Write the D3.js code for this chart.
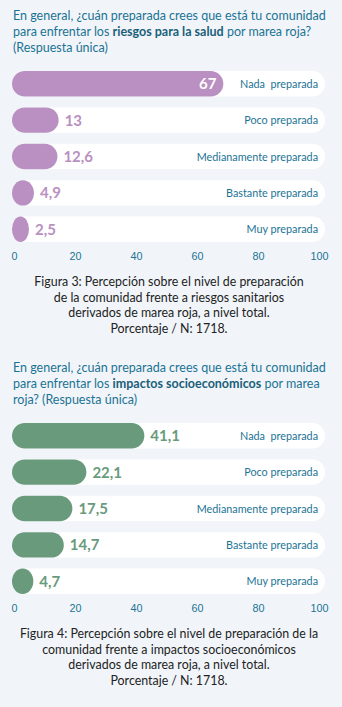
<!DOCTYPE html>
<html>
<head>
<meta charset="utf-8">
<script src="https://cdn.jsdelivr.net/npm/d3@7"></script>
<style>
  body { margin: 0; background: #f1f5f9; }
  svg { display: block; font-family: Lato, sans-serif; }
  .cat { white-space: pre; }
</style>
</head>
<body>
<svg id="chart" width="342" height="707"></svg>
<script>
// categories and values
const categories = ["Nada  preparada", "Poco preparada", "Medianamente preparada", "Bastante preparada", "Muy preparada"];
const saludValues = [67, 13, 12.6, 4.9, 2.5];
const impactosValues = [41.1, 22.1, 17.5, 14.7, 4.7];
const tickValues = [0, 20, 40, 60, 80, 100];

const title1 = [["En general, ¿cuán preparada crees que está tu comunidad"], ["para enfrentar los ", "riesgos para la salud", " por marea roja?"], ["(Respuesta única)"]];
const title2 = [["En general, ¿cuán preparada crees que está tu comunidad"], ["para enfrentar los ", "impactos socioeconómicos", " por marea"], ["roja? (Respuesta única)"]];
const caption1 = ["Figura 3: Percepción sobre el nivel de preparación", "de la comunidad frente a riesgos sanitarios", "derivados de marea roja, a nivel total.", "Porcentaje / N: 1718."];
const caption2 = ["Figura 4: Percepción sobre el nivel de preparación de la", "comunidad frente a impactos socioeconómicos", "derivados de marea roja, a nivel total.", "Porcentaje / N: 1718."];

const svg = d3.select("#chart");
const x = d3.scaleLinear().domain([0, 100]).range([14, 319]);
const textColor = "#1b7394";

function drawChart(top, titleLines, values, color, caption) {
  const g = svg.append("g").attr("transform", "translate(0," + top + ")");

  // title with a bold part
  titleLines.forEach((parts, i) => {
    const t = g.append("text").attr("x", 13).attr("y", 19.5 + i * 16.3)
      .attr("font-size", 12.5).attr("fill", textColor);
    parts.forEach((p, j) => {
      t.append("tspan").text(p)
        .attr("font-weight", j == 1 ? "bold" : "normal")
        .attr("fill", j == 1 ? "#1a5f7a" : textColor);
    });
  });

  const y = d3.scaleBand().domain(categories).range([71, 242]).paddingInner(0.3);
  const rows = categories.map((c, i) => ({ cat: c, v: values[i] }));
  const barW = d => Math.max(x(d.v) - x(0) + 7, 17);

  // white tracks
  g.selectAll(".track").data(rows).enter().append("rect")
    .attr("x", 12).attr("y", d => y(d.cat))
    .attr("width", 313).attr("height", y.bandwidth())
    .attr("rx", y.bandwidth() / 2).attr("fill", "#fff");

  // bars
  g.selectAll(".bar").data(rows).enter().append("rect")
    .attr("x", 12).attr("y", d => y(d.cat))
    .attr("width", barW).attr("height", y.bandwidth())
    .attr("rx", d => Math.min(y.bandwidth(), barW(d)) / 2)
    .attr("ry", y.bandwidth() / 2)
    .attr("fill", color);

  // values
  g.selectAll(".val").data(rows).enter().append("text")
    .attr("x", d => d.v > 50 ? 12 + barW(d) - 7 : 12 + barW(d) + 6)
    .attr("y", d => y(d.cat) + y.bandwidth() / 2 + 5.5)
    .attr("text-anchor", d => d.v > 50 ? "end" : "start")
    .attr("font-size", 15).attr("font-weight", "bold")
    .attr("fill", d => d.v > 50 ? "#fff" : color)
    .text(d => String(d.v).replace(".", ","));

  // category labels
  g.selectAll(".cat").data(rows).enter().append("text")
    .attr("class", "cat")
    .attr("x", 318).attr("y", d => y(d.cat) + y.bandwidth() / 2 + 4)
    .attr("text-anchor", "end").attr("font-size", 10.8).attr("fill", textColor)
    .text(d => d.cat);

  // axis
  const axis = g.append("g").attr("transform", "translate(0,246)")
    .call(d3.axisBottom(x).tickValues(tickValues).tickSize(0).tickPadding(6.5));
  axis.select(".domain").remove();
  axis.selectAll("text").attr("font-size", 10.8).attr("fill", textColor).attr("font-family", null);

  // caption
  caption.forEach((line, i) => {
    g.append("text").attr("x", 169).attr("y", 286 + i * 15.6)
      .attr("text-anchor", "middle").attr("font-size", 12.4).attr("fill", "#222")
      .text(line);
  });
}

drawChart(0, title1, saludValues, "#b990c1", caption1);
drawChart(352, title2, impactosValues, "#6a9a7c", caption2);
</script>
</body>
</html>
